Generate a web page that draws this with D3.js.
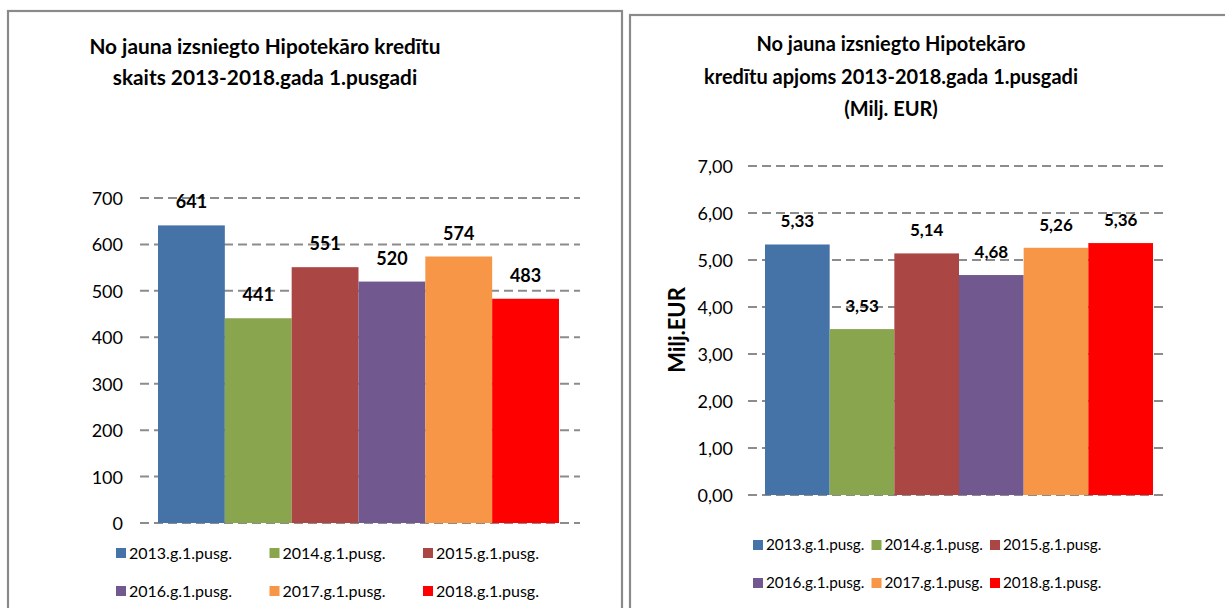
<!DOCTYPE html>
<html>
<head>
<meta charset="utf-8">
<script src="https://cdn.jsdelivr.net/npm/d3@7"></script>
<style>
  html, body { margin: 0; padding: 0; background: #fff; }
  svg { display: block; }
  text { font-family: Lato, "Open Sans", sans-serif; fill: #000; }
</style>
</head>
<body>
<svg id="chart" width="1225" height="608"></svg>
<script>
// ---- data ----
const seriesNames = ["2013.g.1.pusg.", "2014.g.1.pusg.", "2015.g.1.pusg.", "2016.g.1.pusg.", "2017.g.1.pusg.", "2018.g.1.pusg."];
const seriesColors = ["#4572A7", "#89A54E", "#AA4643", "#71588F", "#F79646", "#FF0000"];
const countValues = [641, 441, 551, 520, 574, 483];
const amountValues = [5.33, 3.53, 5.14, 4.68, 5.26, 5.36];
const countTicks = [0, 100, 200, 300, 400, 500, 600, 700];
const amountTicks = [0, 1, 2, 3, 4, 5, 6, 7];
const titleLeft = ["No jauna izsniegto Hipotekāro kredītu", "skaits 2013-2018.gada 1.pusgadi"];
const titleRight = ["No jauna izsniegto Hipotekāro", "kredītu apjoms 2013-2018.gada 1.pusgadi", "(Milj. EUR)"];
const amountAxisTitle = "Milj.EUR";

const svg = d3.select("#chart");
const fmtComma = v => d3.format(".2f")(v).replace(".", ",");

// panel frames
svg.append("rect").attr("x", 8).attr("y", 11).attr("width", 614).attr("height", 640)
  .attr("fill", "#fff").attr("stroke", "#8a8a8a").attr("stroke-width", 2.2);
svg.append("rect").attr("x", 630).attr("y", 15).attr("width", 640).attr("height", 640)
  .attr("fill", "#fff").attr("stroke", "#8a8a8a").attr("stroke-width", 2.2);

function drawChart(cfg) {
  const g = svg.append("g");
  const y = d3.scaleLinear().domain([0, cfg.max]).range([cfg.y0, cfg.y1]);
  const x = d3.scaleBand().domain(seriesNames).range([cfg.barX0, cfg.barX1]).padding(0);

  // grid lines (dashed)
  g.append("g").selectAll("line").data(cfg.ticks).join("line")
    .attr("x1", cfg.gridX0).attr("x2", cfg.gridX1)
    .attr("y1", d => y(d)).attr("y2", d => y(d))
    .attr("stroke", "#8c8c8c").attr("stroke-width", 2)
    .attr("stroke-dasharray", "9,5");

  // y axis via d3.axisLeft (labels only)
  const ax = g.append("g").attr("transform", `translate(${cfg.labelX},0)`)
    .call(d3.axisLeft(y).tickValues(cfg.ticks).tickSize(0).tickPadding(0).tickFormat(cfg.tickFmt));
  ax.select(".domain").remove();
  ax.selectAll("text").attr("font-family", "Lato, 'Open Sans', sans-serif")
    .attr("font-size", cfg.tickSize).attr("fill", "#222").attr("dy", "0.36em");

  // bars
  g.append("g").selectAll("rect").data(cfg.values).join("rect")
    .attr("x", (d, i) => x(seriesNames[i]))
    .attr("width", x.bandwidth())
    .attr("y", d => y(d))
    .attr("height", d => y(0) - y(d))
    .attr("fill", (d, i) => seriesColors[i]);

  // data labels
  g.append("g").selectAll("text").data(cfg.values).join("text")
    .attr("x", (d, i) => x(seriesNames[i]) + x.bandwidth() / 2)
    .attr("y", d => y(d) - 17)
    .attr("text-anchor", "middle")
    .attr("font-size", cfg.valSize).attr("font-weight", "bold")
    .text(d => cfg.labelFmt(d));

  // title
  g.append("g").selectAll("text").data(cfg.title).join("text")
    .attr("x", cfg.titleX)
    .attr("y", (d, i) => cfg.titleY + i * cfg.titleLH)
    .attr("text-anchor", "middle")
    .attr("font-size", cfg.titleSize).attr("font-weight", "bold")
    .text(d => d);

  // legend
  const lg = g.append("g");
  seriesNames.forEach((name, i) => {
    const col = i % 3, row = Math.floor(i / 3);
    const lx = cfg.legX + col * cfg.legDX, ly = cfg.legY + row * cfg.legDY;
    lg.append("rect").attr("x", lx).attr("y", ly - 5).attr("width", 10).attr("height", 10)
      .attr("fill", seriesColors[i]);
    lg.append("text").attr("x", lx + 13).attr("y", ly).attr("dy", "0.35em")
      .attr("font-size", cfg.legSize).attr("fill", "#222").text(name);
  });
  return g;
}

drawChart({
  max: 700, ticks: countTicks, values: countValues,
  y0: 523, y1: 198, barX0: 158, barX1: 559, gridX0: 140, gridX1: 580,
  labelX: 123, tickFmt: d3.format("d"), labelFmt: d3.format("d"),
  tickSize: 18, valSize: 18,
  title: titleLeft, titleX: 265, titleY: 54, titleLH: 31, titleSize: 20.8,
  legX: 116, legY: 553, legDX: 153.5, legDY: 38, legSize: 16
});

const gr = drawChart({
  max: 7, ticks: amountTicks, values: amountValues,
  y0: 495, y1: 166, barX0: 765, barX1: 1153, gridX0: 748, gridX1: 1166,
  labelX: 733, tickFmt: fmtComma, labelFmt: fmtComma,
  tickSize: 18, valSize: 17,
  title: titleRight, titleX: 891, titleY: 51, titleLH: 32.5, titleSize: 20,
  legX: 753, legY: 545, legDX: 118.5, legDY: 38, legSize: 15.3
});

gr.append("text")
  .attr("transform", "translate(677,330) rotate(-90)")
  .attr("text-anchor", "middle").attr("dy", "0.35em")
  .attr("font-size", 22).attr("font-weight", "bold")
  .text(amountAxisTitle);
</script>
</body>
</html>
